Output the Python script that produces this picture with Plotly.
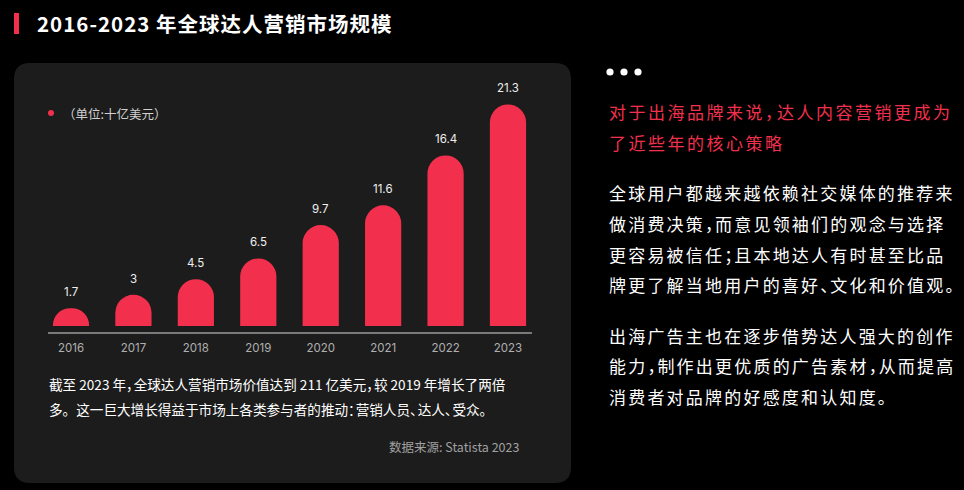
import plotly.graph_objects as go

# ---- data ----
years = ["2016", "2017", "2018", "2019", "2020", "2021", "2022", "2023"]
market_size = [1.7, 3, 4.5, 6.5, 9.7, 11.6, 16.4, 21.3]
value_labels = ["1.7", "3", "4.5", "6.5", "9.7", "11.6", "16.4", "21.3"]

title_text = "2016-2023 年全球达人营销市场规模"
unit_text = "（单位:十亿美元）"
summary_lines = [
    "截至 2023 年，全球达人营销市场价值达到 211 亿美元，较 2019 年增长了两倍",
    "多。这一巨大增长得益于市场上各类参与者的推动：营销人员、达人、受众。",
]
source_text = "数据来源: Statista 2023"
heading_lines = ["对于出海品牌来说，达人内容营销更成为", "了近些年的核心策略"]
para1 = ["全球用户都越来越依赖社交媒体的推荐来", "做消费决策，而意见领袖们的观念与选择",
         "更容易被信任；且本地达人有时甚至比品", "牌更了解当地用户的喜好、文化和价值观。"]
para2 = ["出海广告主也在逐步借势达人强大的创作", "能力，制作出更优质的广告素材，从而提高",
         "消费者对品牌的好感度和认知度。"]

W, H = 964, 490
RED = "#F2304D"
CJK = "Noto Sans CJK SC"


def px(x):
    return x / W


def py(y):
    return (H - y) / H


def narrow_punct(s, ls, squeeze):
    """wrap text with letter spacing; squeeze full-width punctuation"""
    out = ""
    for ch in s:
        if ch in "，；、：":
            out += f'<span style="letter-spacing:{squeeze}px">{ch}</span>'
        else:
            out += f'<span style="letter-spacing:{ls}px">{ch}</span>'
    return out


def rounded_rect(x0, y0, x1, y1, r):
    pts = [
        f"M {px(x0 + r)} {py(y0)}",
        f"L {px(x1 - r)} {py(y0)}",
        f"Q {px(x1)} {py(y0)} {px(x1)} {py(y0 + r)}",
        f"L {px(x1)} {py(y1 - r)}",
        f"Q {px(x1)} {py(y1)} {px(x1 - r)} {py(y1)}",
        f"L {px(x0 + r)} {py(y1)}",
        f"Q {px(x0)} {py(y1)} {px(x0)} {py(y1 - r)}",
        f"L {px(x0)} {py(y0 + r)}",
        f"Q {px(x0)} {py(y0)} {px(x0 + r)} {py(y0)}",
        "Z",
    ]
    return " ".join(pts)


fig = go.Figure()
fig.add_trace(go.Bar(
    x=years, y=market_size, marker=dict(color=RED, line=dict(width=0)),
    width=0.58, hoverinfo="skip", cliponaxis=False,
))

shapes = [
    dict(type="path", xref="paper", yref="paper", layer="below",
         path=rounded_rect(14, 63, 571, 483, 16),
         fillcolor="#1c1c1c", line=dict(width=0)),
    dict(type="rect", xref="paper", yref="paper",
         x0=px(14), x1=px(19), y0=py(34), y1=py(13),
         fillcolor=RED, line=dict(width=0)),
    dict(type="line", xref="paper", yref="paper",
         x0=px(48), x1=px(532), y0=py(333), y1=py(333),
         line=dict(color="#9a9a9a", width=1.5)),
    dict(type="circle", xref="paper", yref="paper",
         x0=px(48), x1=px(54), y0=py(116), y1=py(110),
         fillcolor=RED, line=dict(width=0)),
]
for cx in (610, 624, 638):
    shapes.append(dict(type="circle", xref="paper", yref="paper",
                       x0=px(cx - 3.6), x1=px(cx + 3.6), y0=py(75.6), y1=py(68.4),
                       fillcolor="white", line=dict(width=0)))

ann = []
# value labels above bars (category axis: position by category index)
for i, (v, lab) in enumerate(zip(market_size, value_labels)):
    ann.append(dict(x=i, y=v, xref="x", yref="y", text=lab, showarrow=False,
                    yanchor="bottom", yshift=7,
                    font=dict(family="Inter", size=11.5, color="#f0f0f0")))

ann.append(dict(x=px(35), y=py(23), xref="paper", yref="paper", xanchor="left",
                yanchor="middle", showarrow=False,
                text='<b><span style="letter-spacing:1px">' + title_text + "</span></b>",
                font=dict(family=CJK, size=20.5, color="white")))
ann.append(dict(x=px(61), y=py(113), xref="paper", yref="paper", xanchor="left",
                yanchor="middle", showarrow=False, text=unit_text,
                font=dict(family=CJK, size=12.5, color="#d0d0d0")))
for i, line in enumerate(summary_lines):
    ann.append(dict(x=px(47), y=py(384 + 25 * i), xref="paper", yref="paper",
                    xanchor="left", yanchor="middle", showarrow=False,
                    text=narrow_punct(line, 0, -6),
                    font=dict(family=CJK, size=13.6, color="white")))
ann.append(dict(x=px(521), y=py(446), xref="paper", yref="paper", xanchor="right",
                yanchor="middle", showarrow=False, text=source_text,
                font=dict(family=CJK, size=12.5, color="#a0a0a0")))

for i, line in enumerate(heading_lines):
    ann.append(dict(x=px(607), y=py(112 + 30.5 * i), xref="paper", yref="paper",
                    xanchor="left", yanchor="middle", showarrow=False,
                    text=narrow_punct(line, 2.5, -5),
                    font=dict(family=CJK, size=17, color=RED)))
for i, line in enumerate(para1):
    ann.append(dict(x=px(607), y=py(193 + 30.5 * i), xref="paper", yref="paper",
                    xanchor="left", yanchor="middle", showarrow=False,
                    text=narrow_punct(line, 2.2, -7),
                    font=dict(family=CJK, size=17, color="white")))
for i, line in enumerate(para2):
    ann.append(dict(x=px(607), y=py(335 + 30.5 * i), xref="paper", yref="paper",
                    xanchor="left", yanchor="middle", showarrow=False,
                    text=narrow_punct(line, 2.2, -7),
                    font=dict(family=CJK, size=17, color="white")))

fig.update_layout(
    width=W, height=H,
    margin=dict(l=0, r=0, t=0, b=0),
    paper_bgcolor="black", plot_bgcolor="rgba(0,0,0,0)",
    showlegend=False,
    barcornerradius="50%",
    shapes=shapes, annotations=ann,
    xaxis=dict(type="category", domain=[px(39.8), px(539.2)], range=[-0.5, 7.5],
               showgrid=False, zeroline=False, automargin=False,
               showline=False, ticks="", ticklabelstandoff=13,
               tickfont=dict(family="Inter", size=11.5, color="#b0b0b0"),
               fixedrange=True),
    yaxis=dict(domain=[py(326), py(66)], range=[0, 25], visible=False,
               automargin=False,
               showgrid=False, zeroline=False, fixedrange=True),
)

fig.write_html("out.html")
